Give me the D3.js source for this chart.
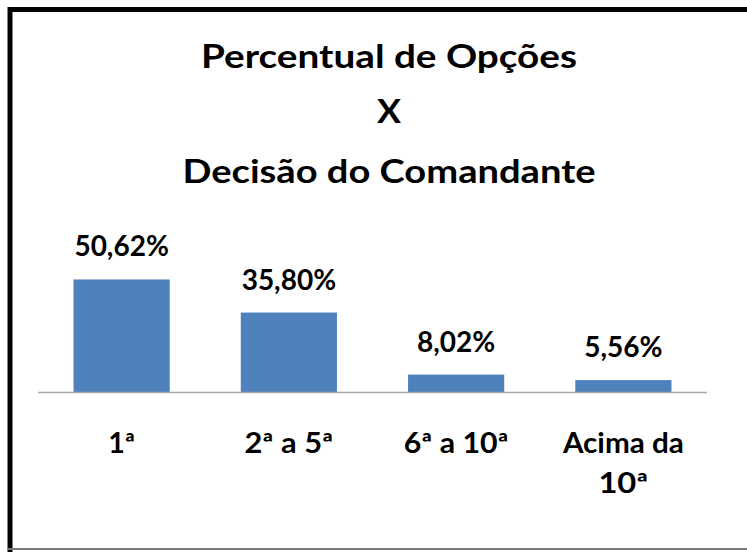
<!DOCTYPE html>
<html>
<head>
  <meta charset="utf-8">
  <script src="https://d3js.org/d3.v7.min.js"></script>
  <style>
    body { margin: 0; background: #fff; }
    text { font-family: Lato, "Open Sans", sans-serif; font-weight: bold; fill: #000; }
  </style>
</head>
<body>
  <svg id="chart" width="747" height="552"></svg>
  <script>
    // data
    const categories = ["1ª", "2ª a 5ª", "6ª a 10ª", "Acima da 10ª"];
    const values = [50.62, 35.80, 8.02, 5.56];
    const valueLabels = ["50,62%", "35,80%", "8,02%", "5,56%"];
    const titleLines = ["Percentual de Opções", "X", "Decisão do Comandante"];
    // category labels broken into lines as in the picture
    const categoryLines = [["1ª"], ["2ª a 5ª"], ["6ª a 10ª"], ["Acima da", "10ª"]];

    // measured text widths in the reference (the original font is wider than Lato)
    const titleWidths = [376, 24, 413];
    const categoryWidths = [[27], [89], [105], [121, 50]];

    const svg = d3.select("#chart");
    const baseY = 392.5;

    // frame
    svg.append("line").attr("x1", 10).attr("x2", 10).attr("y1", 7).attr("y2", 552)
      .attr("stroke", "#000").attr("stroke-width", 5);
    svg.append("line").attr("x1", 8).attr("x2", 747).attr("y1", 9.5).attr("y2", 9.5)
      .attr("stroke", "#000").attr("stroke-width", 5);
    svg.append("line").attr("x1", 8).attr("x2", 747).attr("y1", 549).attr("y2", 549)
      .attr("stroke", "#777").attr("stroke-width", 2);

    // title
    const titleY = [68, 123, 183];
    svg.append("g").selectAll("text").data(titleLines)
      .join("text")
      .attr("x", 389)
      .attr("y", (d, i) => titleY[i])
      .attr("text-anchor", "middle")
      .attr("textLength", (d, i) => titleWidths[i])
      .attr("lengthAdjust", "spacingAndGlyphs")
      .style("font-size", "32px")
      .text(d => d);

    const x = d3.scaleBand().domain(categories).range([38, 707]).paddingInner(0.425).paddingOuter(0.2125);
    const y = d3.scaleLinear().domain([0, 60]).range([baseY, baseY - 134]);

    svg.append("g").selectAll("rect").data(values)
      .join("rect")
      .attr("x", (d, i) => x(categories[i]))
      .attr("width", x.bandwidth())
      .attr("y", d => y(d))
      .attr("height", d => baseY - y(d))
      .attr("fill", "#4F81BD");

    // axis line
    svg.append("line").attr("x1", 38).attr("x2", 707).attr("y1", baseY).attr("y2", baseY)
      .attr("stroke", "#a6a6a6").attr("stroke-width", 1.5);

    // value labels
    svg.append("g").selectAll("text").data(values)
      .join("text")
      .attr("x", (d, i) => x(categories[i]) + x.bandwidth() / 2)
      .attr("y", d => y(d) - 23)
      .attr("text-anchor", "middle")
      .style("font-size", "28px")
      .text((d, i) => valueLabels[i]);

    // category labels, one text per line
    const catG = svg.append("g");
    categories.forEach((c, i) => {
      categoryLines[i].forEach((line, j) => {
        catG.append("text")
          .attr("x", x(c) + x.bandwidth() / 2)
          .attr("y", 453 + j * 40)
          .attr("text-anchor", "middle")
          .attr("textLength", categoryWidths[i][j])
          .attr("lengthAdjust", "spacingAndGlyphs")
          .style("font-size", "28px")
          .text(line);
      });
    });
  </script>
</body>
</html>
